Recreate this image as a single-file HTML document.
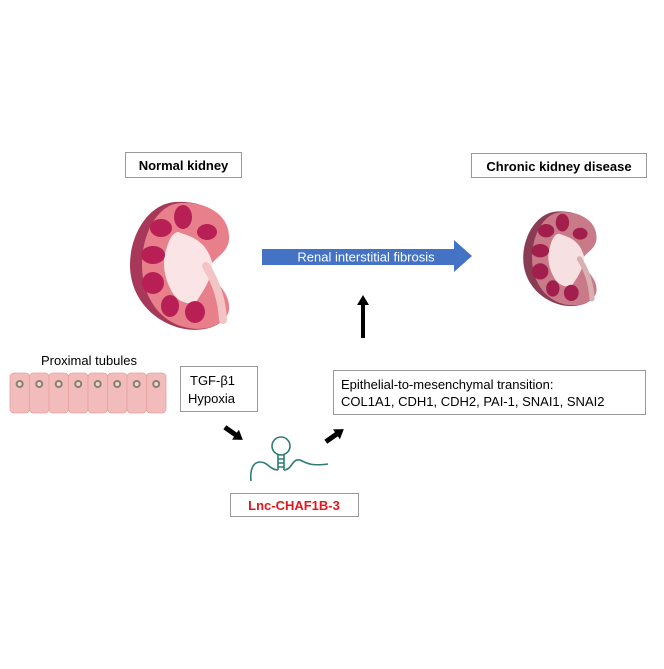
<!DOCTYPE html>
<html><head><style>
body{margin:0;background:#fff;}
svg text{font-family:"Liberation Sans",sans-serif;}
</style></head><body>
<svg width="664" height="664" viewBox="0 0 664 664" xmlns="http://www.w3.org/2000/svg">
<rect width="664" height="664" fill="#fff"/>
<rect x="125.5" y="152.5" width="116" height="25" fill="#fff" stroke="#999"/>
<text x="183.5" y="170" font-size="13" font-weight="bold" text-anchor="middle">Normal kidney</text>
<rect x="471.5" y="153.5" width="175" height="24" fill="#fff" stroke="#999"/>
<text x="559" y="171" font-size="13" font-weight="bold" text-anchor="middle">Chronic kidney disease</text>

<g>
<path d="M175,202 C205,200 230,215 228,240 C226,255 210,258 208,268 C208,280 230,290 228,310 C225,328 200,333 180,328 C150,320 130,295 130,265 C130,235 148,204 175,202Z" fill="#a8385a"/>
<path d="M180,203 C208,201 231,216 229,240 C227,255 212,258 210,268 C210,280 231,290 229,310 C226,327 202,332 184,327 C158,320 142,295 142,265 C142,236 156,205 180,203Z" fill="#e8808c"/>
<path d="M178,232 C190,236 206,240 212,262 C214,275 204,290 196,302 C186,306 175,300 170,288 C164,276 162,262 166,250 C169,240 172,233 178,232Z" fill="#fbe4e6"/>
<path d="M206,266 C216,282 222,300 223,320" stroke="#f2c4c4" stroke-width="8" fill="none" stroke-linecap="round"/>
<g fill="#b81f55">
<ellipse cx="183" cy="217" rx="9" ry="12"/>
<ellipse cx="161" cy="228" rx="11" ry="9"/>
<ellipse cx="207" cy="232" rx="10" ry="8"/>
<ellipse cx="153" cy="255" rx="12" ry="9"/>
<ellipse cx="153" cy="283" rx="11" ry="11"/>
<ellipse cx="170" cy="306" rx="9" ry="11"/>
<ellipse cx="195" cy="312" rx="10" ry="11"/>
</g>
</g>

<g transform="translate(427,62) scale(0.74)">
<path d="M175,202 C205,200 230,215 228,240 C226,255 210,258 208,268 C208,280 230,290 228,310 C225,328 200,333 180,328 C150,320 130,295 130,265 C130,235 148,204 175,202Z" fill="#8a3c55"/>
<path d="M180,203 C208,201 231,216 229,240 C227,255 212,258 210,268 C210,280 231,290 229,310 C226,327 202,332 184,327 C158,320 142,295 142,265 C142,236 156,205 180,203Z" fill="#c97a88"/>
<path d="M178,232 C190,236 206,240 212,262 C214,275 204,290 196,302 C186,306 175,300 170,288 C164,276 162,262 166,250 C169,240 172,233 178,232Z" fill="#f6e0e2"/>
<path d="M206,266 C216,282 222,300 223,320" stroke="#d8b0b0" stroke-width="7" fill="none" stroke-linecap="round"/>
<g fill="#a21e4c">
<ellipse cx="183" cy="217" rx="9" ry="12"/>
<ellipse cx="161" cy="228" rx="11" ry="9"/>
<ellipse cx="207" cy="232" rx="10" ry="8"/>
<ellipse cx="153" cy="255" rx="12" ry="9"/>
<ellipse cx="153" cy="283" rx="11" ry="11"/>
<ellipse cx="170" cy="306" rx="9" ry="11"/>
<ellipse cx="195" cy="312" rx="10" ry="11"/>
</g>
</g>

<polygon points="262,249 454,249 454,240 472,256 454,272 454,265 262,265" fill="#4472c4"/>
<text x="366" y="261.5" font-size="13" fill="#fff" text-anchor="middle">Renal interstitial fibrosis</text>

<rect x="361" y="304" width="4" height="34" fill="#000"/>
<polygon points="357,305 363,295 369,305" fill="#000"/>

<text x="89" y="365" font-size="13" text-anchor="middle">Proximal tubules</text>
<g fill="#f2bcbc" stroke="#e8a0a0" stroke-width="0.8">
<rect x="10" y="373" width="19.5" height="40" rx="4"/>
<rect x="29.5" y="373" width="19.5" height="40" rx="4"/>
<rect x="49" y="373" width="19.5" height="40" rx="4"/>
<rect x="68.5" y="373" width="19.5" height="40" rx="4"/>
<rect x="88" y="373" width="19.5" height="40" rx="4"/>
<rect x="107.5" y="373" width="19.5" height="40" rx="4"/>
<rect x="127" y="373" width="19.5" height="40" rx="4"/>
<rect x="146.5" y="373" width="19.5" height="40" rx="4"/>
</g>
<g fill="#f2d6d6" stroke="#8a8070" stroke-width="2">
<circle cx="19.7" cy="384" r="3"/><circle cx="39.2" cy="384" r="3"/><circle cx="58.7" cy="384" r="3"/><circle cx="78.2" cy="384" r="3"/>
<circle cx="97.7" cy="384" r="3"/><circle cx="117.2" cy="384" r="3"/><circle cx="136.7" cy="384" r="3"/><circle cx="156.2" cy="384" r="3"/>
</g>

<rect x="180.5" y="366.5" width="77" height="45" fill="#fff" stroke="#999"/>
<text x="190" y="385" font-size="13">TGF-β1</text>
<text x="188" y="403" font-size="13">Hypoxia</text>

<rect x="333.5" y="370.5" width="312" height="44" fill="#fff" stroke="#999"/>
<text x="341" y="389" font-size="13">Epithelial-to-mesenchymal transition:</text>
<text x="341" y="406" font-size="13">COL1A1, CDH1, CDH2, PAI-1, SNAI1, SNAI2</text>

<g transform="translate(233,433) rotate(35)"><rect x="-10" y="-2.5" width="14" height="5" fill="#000"/><polygon points="3,-6 12,0 3,6" fill="#000"/></g>
<g transform="translate(334,436) rotate(-35)"><rect x="-10" y="-2.5" width="14" height="5" fill="#000"/><polygon points="3,-6 12,0 3,6" fill="#000"/></g>

<g stroke="#2e7d73" stroke-width="1.6" fill="none">
<circle cx="281" cy="446" r="9"/>
<path d="M278,455 L278,470 M284,455 L284,470"/>
<path d="M278,459 h6 M278,463 h6 M278,467 h6"/>
<path d="M278,470 C270,470 268,462 260,462 C252,462 250,472 251,481"/>
<path d="M284,470 C292,470 292,458 300,460 C308,464 312,466 328,464"/>
</g>

<rect x="230.5" y="493.5" width="128" height="23" fill="#fff" stroke="#999"/>
<text x="294" y="510" font-size="13" font-weight="bold" fill="#e8141c" text-anchor="middle">Lnc-CHAF1B-3</text>
</svg>
</body></html>
